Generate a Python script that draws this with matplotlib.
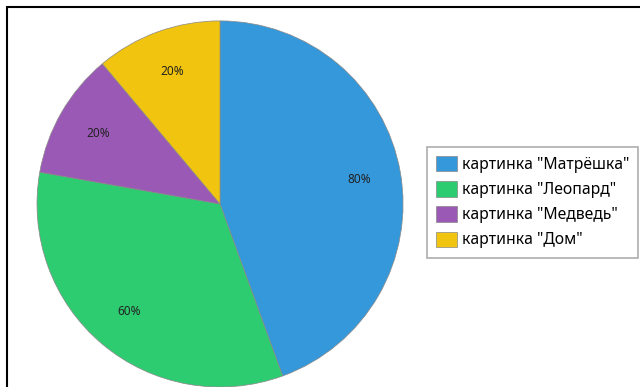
import matplotlib.pyplot as plt
from matplotlib.patches import Rectangle

labels = ['картинка "Матрёшка"', 'картинка "Леопард"', 'картинка "Медведь"', 'картинка "Дом"']
values = [80, 60, 20, 20]
colors = ["#3498db", "#2ecc71", "#9b59b6", "#f1c40f"]

plt.rcParams["font.family"] = ["Noto Sans", "DejaVu Sans"]

fig = plt.figure(figsize=(6.4, 3.87), dpi=100)
ax = fig.add_axes([0.0578, 0.0, 0.572, 0.946])

total = sum(values)
wedges, texts, autotexts = ax.pie(
    values, colors=colors, startangle=90, counterclock=False,
    autopct=lambda p: f"{p * total / 100:.0f}%", pctdistance=0.77,
    wedgeprops={"linewidth": 0.5, "edgecolor": "#888888"},
    textprops={"fontsize": 8.5, "color": "#222222"},
)
ax.set_xlim(-1, 1)
ax.set_ylim(-1, 1)
ax.set_aspect("equal")

leg = ax.legend(
    wedges, labels, loc="upper left", bbox_to_anchor=(427 / 640, 1 - 147 / 387),
    bbox_transform=fig.transFigure, borderaxespad=0, fontsize=11.3,
    frameon=True, fancybox=False,
    handlelength=1.3, handleheight=1.1, handletextpad=0.3, labelspacing=0.52,
    borderpad=0.6,
)
leg.get_frame().set_edgecolor("#999999")
leg.get_frame().set_linewidth(1.2)

# outer frame, cropped on right and bottom
fig.patches.append(Rectangle((7 / 640, -0.1), 1.2, 1 - 7 / 387 + 0.1,
                             transform=fig.transFigure, fill=False,
                             edgecolor="black", linewidth=1.5))

plt.savefig("out.png", dpi=100)
